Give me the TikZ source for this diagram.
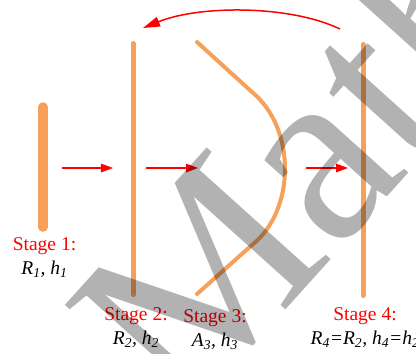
\documentclass[tikz,border=0pt]{standalone}
\usepackage{fontspec}
\setmainfont{Liberation Serif}
\newfontfamily\wmfont{Liberation Serif}
\usetikzlibrary{arrows.meta}
\definecolor{barorange}{RGB}{247,160,90}
\begin{document}
\begin{tikzpicture}[x=1bp,y=-1bp,
  bar/.style={draw=barorange, line cap=round, line join=round},
  flow/.style={draw=red, line width=1.3bp, -{Triangle[length=12bp,width=8.5bp]}},
  stagelbl/.style={text=red, font=\fontsize{19.5bp}{24bp}\selectfont, inner sep=0, anchor=base},
  varlbl/.style={text=black, font=\fontsize{19.5bp}{24bp}\selectfont\itshape, inner sep=0, anchor=base},
]
\useasboundingbox (0,0) rectangle (416,354);
\clip (0,0) rectangle (416,354);
% bars
\coordinate (b1t) at (43,107); \coordinate (b1b) at (43,227);
\coordinate (b2t) at (133,43.5); \coordinate (b2b) at (133,294.5);
\coordinate (b4t) at (363,44.5); \coordinate (b4b) at (363,295.5);
\coordinate (c3t) at (197,42); \coordinate (c3a) at (252,92);
\coordinate (c3b) at (252,245); \coordinate (c3e) at (197,294);
\draw[bar, line width=9.5bp] (b1t) -- (b1b);
\draw[bar, line width=5bp] (b2t) -- (b2b);
\draw[bar, line width=5bp] (b4t) -- (b4b);
\draw[bar, line width=4bp] (c3t) -- (c3a) .. controls (296,128) and (296,210) .. (c3b) -- (c3e);
% flow arrows
\coordinate (a1s) at (62,168); \coordinate (a1e) at (113,168);
\coordinate (a2s) at (146,168); \coordinate (a2e) at (198,168);
\coordinate (a3s) at (306,168); \coordinate (a3e) at (348,168);
\draw[flow] (a1s) -- (a1e);
\draw[flow] (a2s) -- (a2e);
\draw[flow] (a3s) -- (a3e);
\coordinate (rs) at (340,29); \coordinate (re) at (143,28);
\draw[red, line width=1.5bp, -{Triangle[length=17bp,width=10bp]}] (rs) .. controls (290,5) and (200,5) .. (re);
% labels
\node[stagelbl] (s1) at (44.5,250) {Stage 1:};
\node[varlbl] (v1) at (44.5,274) {R\textsubscript{1}, h\textsubscript{1}};
\node[stagelbl] (s2) at (136,320) {Stage 2:};
\node[varlbl] (v2) at (136,344) {R\textsubscript{2}, h\textsubscript{2}};
\node[stagelbl] (s3) at (215,322) {Stage 3:};
\node[varlbl] (v3) at (215,346) {A\textsubscript{3}, h\textsubscript{3}};
\node[stagelbl] (s4) at (365,320) {Stage 4:};
\node[varlbl] (v4) at (365,344) {R\textsubscript{4}=R\textsubscript{2}, h\textsubscript{4}=h\textsubscript{2}};
% watermark
\node[rotate=48, anchor=base west, inner sep=0, text=black, text opacity=0.3, font=\wmfont\fontsize{255bp}{255bp}\selectfont] (wm) at (184,423) {Math};
\end{tikzpicture}
\end{document}
